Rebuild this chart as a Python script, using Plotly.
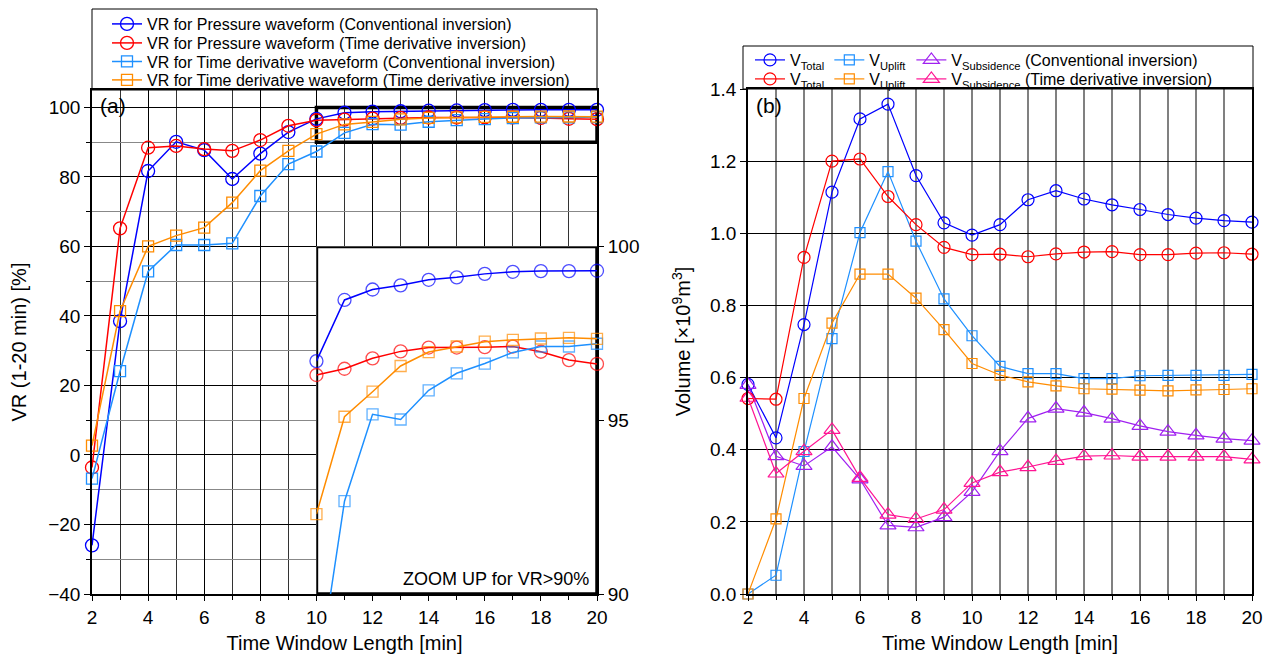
import plotly.graph_objects as go

# window is 1277x662; the page body adds an 8px margin around the figure
WIN_W, WIN_H = 1277, 662
OFF = 8
W, H = WIN_W - 2 * OFF, WIN_H - 2 * OFF
minutes = list(range(2, 21))

# ---- Panel (a): variance reduction VR (1-20 min) [%]
vr_pressure_conv = [-26.0, 38.5, 81.7, 90.1, 87.7, 79.4, 86.7, 92.9, 96.70, 98.46, 98.76,
                    98.88, 99.04, 99.11, 99.21, 99.27, 99.29, 99.29, 99.30]
vr_pressure_td = [-3.6, 65.2, 88.4, 88.9, 88.0, 87.5, 90.6, 94.7, 96.30, 96.48, 96.78,
                  96.98, 97.09, 97.09, 97.10, 97.12, 96.97, 96.73, 96.62]
vr_deriv_conv = [-6.8, 24.1, 52.8, 60.4, 60.4, 60.9, 74.5, 83.7, 87.3, 92.67, 95.17,
                 95.02, 95.86, 96.35, 96.63, 96.95, 97.12, 97.12, 97.20]
vr_deriv_td = [2.7, 41.4, 60.0, 63.1, 65.4, 72.6, 81.8, 87.5, 92.3, 95.10, 95.82,
               96.56, 96.96, 97.12, 97.26, 97.31, 97.35, 97.37, 97.34]

# ---- Panel (b): volumes [x10^9 m^3]
v_total_conv = [0.581, 0.433, 0.747, 1.114, 1.317, 1.358, 1.160, 1.029, 0.995, 1.024,
                1.093, 1.118, 1.095, 1.079, 1.066, 1.052, 1.042, 1.035, 1.031]
v_total_td = [0.542, 0.540, 0.933, 1.200, 1.206, 1.102, 1.024, 0.961, 0.941, 0.942,
              0.935, 0.943, 0.948, 0.949, 0.941, 0.941, 0.945, 0.946, 0.942]
v_uplift_conv = [0.0, 0.052, 0.395, 0.708, 1.002, 1.171, 0.978, 0.818, 0.716, 0.631,
                 0.611, 0.611, 0.597, 0.597, 0.605, 0.606, 0.606, 0.606, 0.609]
v_uplift_td = [0.0, 0.208, 0.542, 0.751, 0.887, 0.887, 0.820, 0.733, 0.639, 0.607,
               0.588, 0.577, 0.569, 0.568, 0.565, 0.563, 0.566, 0.567, 0.569]
v_subs_conv = [0.580, 0.382, 0.355, 0.408, 0.318, 0.190, 0.185, 0.213, 0.283, 0.396,
               0.487, 0.514, 0.503, 0.486, 0.466, 0.450, 0.440, 0.431, 0.425]
v_subs_td = [0.544, 0.334, 0.396, 0.455, 0.322, 0.220, 0.208, 0.234, 0.308, 0.338,
             0.352, 0.369, 0.382, 0.384, 0.381, 0.381, 0.381, 0.381, 0.373]

zoom_start = 10
inset_min = 90

BLUE, RED, LBLUE, ORANGE, PURPLE, PINK = "#0000FF", "#FF0000", "#1E90FF", "#FF8C00", "#A020F0", "#FF1493"
FONT = "Liberation Sans, Arial, Helvetica, sans-serif"


def px_x(p):
    return (p - OFF) / W


def px_y(p):
    return 1 - (p - OFF) / H


# domains
ax_dom_x = [px_x(92), px_x(597)]
ax_dom_y = [px_y(594), px_y(90)]
bx_dom_x = [px_x(748), px_x(1252)]
bx_dom_y = [px_y(594), px_y(89)]
a_xrange = [2, 20]
a_yrange = [-40, 105]
ins_dom_x = [ax_dom_x[0] + (ax_dom_x[1] - ax_dom_x[0]) * (zoom_start - a_xrange[0]) / (a_xrange[1] - a_xrange[0]),
             ax_dom_x[1]]
ins_dom_y = [ax_dom_y[0],
             ax_dom_y[0] + (ax_dom_y[1] - ax_dom_y[0]) * (60 - a_yrange[0]) / (a_yrange[1] - a_yrange[0])]

fig = go.Figure()

series_a = [
    ("VR for Pressure waveform (Conventional inversion)", vr_pressure_conv, BLUE, "circle-open", 13, "legend"),
    ("VR for Pressure waveform (Time derivative inversion)", vr_pressure_td, RED, "circle-open", 13, "legend4"),
    ("VR for Time derivative waveform (Conventional inversion)", vr_deriv_conv, LBLUE, "square-open", 11, "legend5"),
    ("VR for Time derivative waveform (Time derivative inversion)", vr_deriv_td, ORANGE, "square-open", 11, "legend6"),
]
for name, ys, col, sym, sz, lg in series_a:
    fig.add_trace(go.Scatter(
        x=minutes, y=ys, name=name, mode="lines+markers", cliponaxis=False,
        line=dict(color=col, width=1.5),
        marker=dict(symbol=sym, size=sz, color=col, line=dict(width=1.3, color=col)),
        xaxis="x", yaxis="y", legend=lg))

# inset (zoom-up) traces
i0 = minutes.index(zoom_start)
for name, ys, col, sym, sz, lg in series_a:
    yy = ys[i0:]
    fig.add_trace(go.Scatter(
        x=minutes[i0:], y=yy, name=name, mode="lines+markers", cliponaxis=False, showlegend=False,
        line=dict(color=col, width=1.5),
        marker=dict(symbol=sym, size=[sz if v >= inset_min else 0 for v in yy], color=col,
                    line=dict(width=1.3, color=col)),
        xaxis="x3", yaxis="y3"))

series_b = [
    ("V<sub>Total</sub>", v_total_conv, BLUE, "circle-open", 12, "legend2"),
    ("V<sub>Uplift</sub>", v_uplift_conv, LBLUE, "square-open", 10, "legend2"),
    ("V<sub>Subsidence</sub> (Conventional inversion)", v_subs_conv, PURPLE, "triangle-up-open", 14, "legend2"),
    ("V<sub>Total</sub>", v_total_td, RED, "circle-open", 12, "legend3"),
    ("V<sub>Uplift</sub>", v_uplift_td, ORANGE, "square-open", 10, "legend3"),
    ("V<sub>Subsidence</sub> (Time derivative inversion)", v_subs_td, PINK, "triangle-up-open", 14, "legend3"),
]
for name, ys, col, sym, sz, lg in series_b:
    fig.add_trace(go.Scatter(
        x=minutes, y=ys, name=name, mode="lines+markers", cliponaxis=False,
        line=dict(color=col, width=1.2),
        marker=dict(symbol=sym, size=sz, color=col, line=dict(width=1.2, color=col)),
        xaxis="x2", yaxis="y2", legend=lg))

tickfont = dict(family=FONT, size=19, color="black")
titlefont = dict(family=FONT, size=20, color="black")
legfont = dict(family=FONT, size=16, color="black")


def leg(xp, yp, horiz=False):
    d = dict(x=px_x(xp), y=px_y(yp), xanchor="left", yanchor="middle",
             bgcolor="rgba(0,0,0,0)", borderwidth=0, font=legfont, tracegroupgap=0)
    if horiz:
        d["orientation"] = "h"
    return d


fig.update_layout(
    width=W, height=H, margin=dict(l=0, r=0, t=0, b=0, autoexpand=False),
    paper_bgcolor="white", plot_bgcolor="white",
    font=dict(family=FONT, color="black"),
    xaxis=dict(domain=ax_dom_x, range=a_xrange, anchor="y", dtick=2, tick0=0, automargin=False,
               showgrid=True, gridcolor="black", gridwidth=1,
               minor=dict(dtick=1, showgrid=True, gridcolor="#333333", gridwidth=1,
                          ticks="outside", ticklen=4, tickcolor="black"),
               ticks="outside", ticklen=5, tickcolor="black",
               showline=True, linecolor="black", linewidth=1.5, mirror=True, zeroline=False,
               tickfont=tickfont,
               title=dict(text="Time Window Length [min]", font=titlefont, standoff=10)),
    yaxis=dict(domain=ax_dom_y, range=a_yrange, anchor="x", dtick=20, tick0=0, automargin=False,
               showgrid=True, gridcolor="black", gridwidth=1,
               minor=dict(dtick=10, showgrid=True, gridcolor="#888888", gridwidth=1,
                          ticks="outside", ticklen=4, tickcolor="black"),
               ticks="outside", ticklen=6, tickcolor="black",
               showline=True, linecolor="black", linewidth=1.5, mirror=True, zeroline=False,
               tickfont=tickfont,
               title=dict(text="VR (1-20 min) [%]", font=titlefont, standoff=20)),
    xaxis3=dict(domain=ins_dom_x, range=[zoom_start, 20], anchor="y3", visible=False, automargin=False),
    yaxis3=dict(domain=ins_dom_y, range=[inset_min, 100], anchor="x3", side="right", automargin=False,
                tickvals=[90, 95, 100], ticks="outside", ticklen=6, tickcolor="black",
                showgrid=False, zeroline=False, showline=False, tickfont=tickfont),
    xaxis2=dict(domain=bx_dom_x, range=[2, 20], anchor="y2", dtick=2, tick0=0, automargin=False,
                showgrid=True, gridcolor="#808080", gridwidth=2,
                minor=dict(dtick=1, showgrid=True, gridcolor="#808080", gridwidth=2,
                           ticks="outside", ticklen=4, tickcolor="black"),
                ticks="outside", ticklen=5, tickcolor="black",
                showline=True, linecolor="black", linewidth=1.5, mirror=True, zeroline=False,
                tickfont=tickfont,
                title=dict(text="Time Window Length [min]", font=titlefont, standoff=10)),
    yaxis2=dict(domain=bx_dom_y, range=[0, 1.4], anchor="x2", dtick=0.2, tick0=0, tickformat=".1f",
                automargin=False,
                showgrid=True, gridcolor="black", gridwidth=1,
                ticks="outside", ticklen=6, tickcolor="black",
                showline=True, linecolor="black", linewidth=1.5, mirror=True, zeroline=False,
                tickfont=tickfont,
                title=dict(text="Volume [×10<sup>9</sup>m<sup>3</sup>]", font=titlefont, standoff=14)),
    legend=leg(107, 24),
    legend4=leg(107, 43),
    legend5=leg(107, 61.5),
    legend6=leg(107, 80),
    legend2=leg(750, 60, horiz=True),
    legend3=leg(750, 79, horiz=True),
    showlegend=True,
)

fig.add_shape(type="rect", xref="paper", yref="paper", x0=px_x(92), x1=px_x(597),
              y0=px_y(90), y1=px_y(9), line=dict(color="black", width=1))
fig.add_shape(type="rect", xref="paper", yref="paper", x0=px_x(743), x1=px_x(1253),
              y0=px_y(89), y1=px_y(46), line=dict(color="black", width=1))
fig.add_shape(type="rect", xref="x", yref="y", x0=zoom_start, x1=20, y0=inset_min, y1=100,
              line=dict(color="black", width=3.5), layer="between")
fig.add_shape(type="rect", xref="x3", yref="y3", x0=zoom_start, x1=20, y0=inset_min, y1=100,
              line=dict(color="black", width=3.5), layer="between")

fig.add_annotation(text="(a)", xref="paper", yref="paper", x=px_x(98), y=px_y(106),
                   xanchor="left", yanchor="middle", showarrow=False,
                   font=dict(family=FONT, size=21, color="black"))
fig.add_annotation(text="(b)", xref="paper", yref="paper", x=px_x(754), y=px_y(106),
                   xanchor="left", yanchor="middle", showarrow=False,
                   font=dict(family=FONT, size=21, color="black"))
fig.add_annotation(text="ZOOM UP for VR&gt;90%", xref="paper", yref="paper", x=px_x(591), y=px_y(591),
                   xanchor="right", yanchor="bottom", showarrow=False,
                   font=dict(family=FONT, size=18, color="black"))

fig.write_html("out.html")
